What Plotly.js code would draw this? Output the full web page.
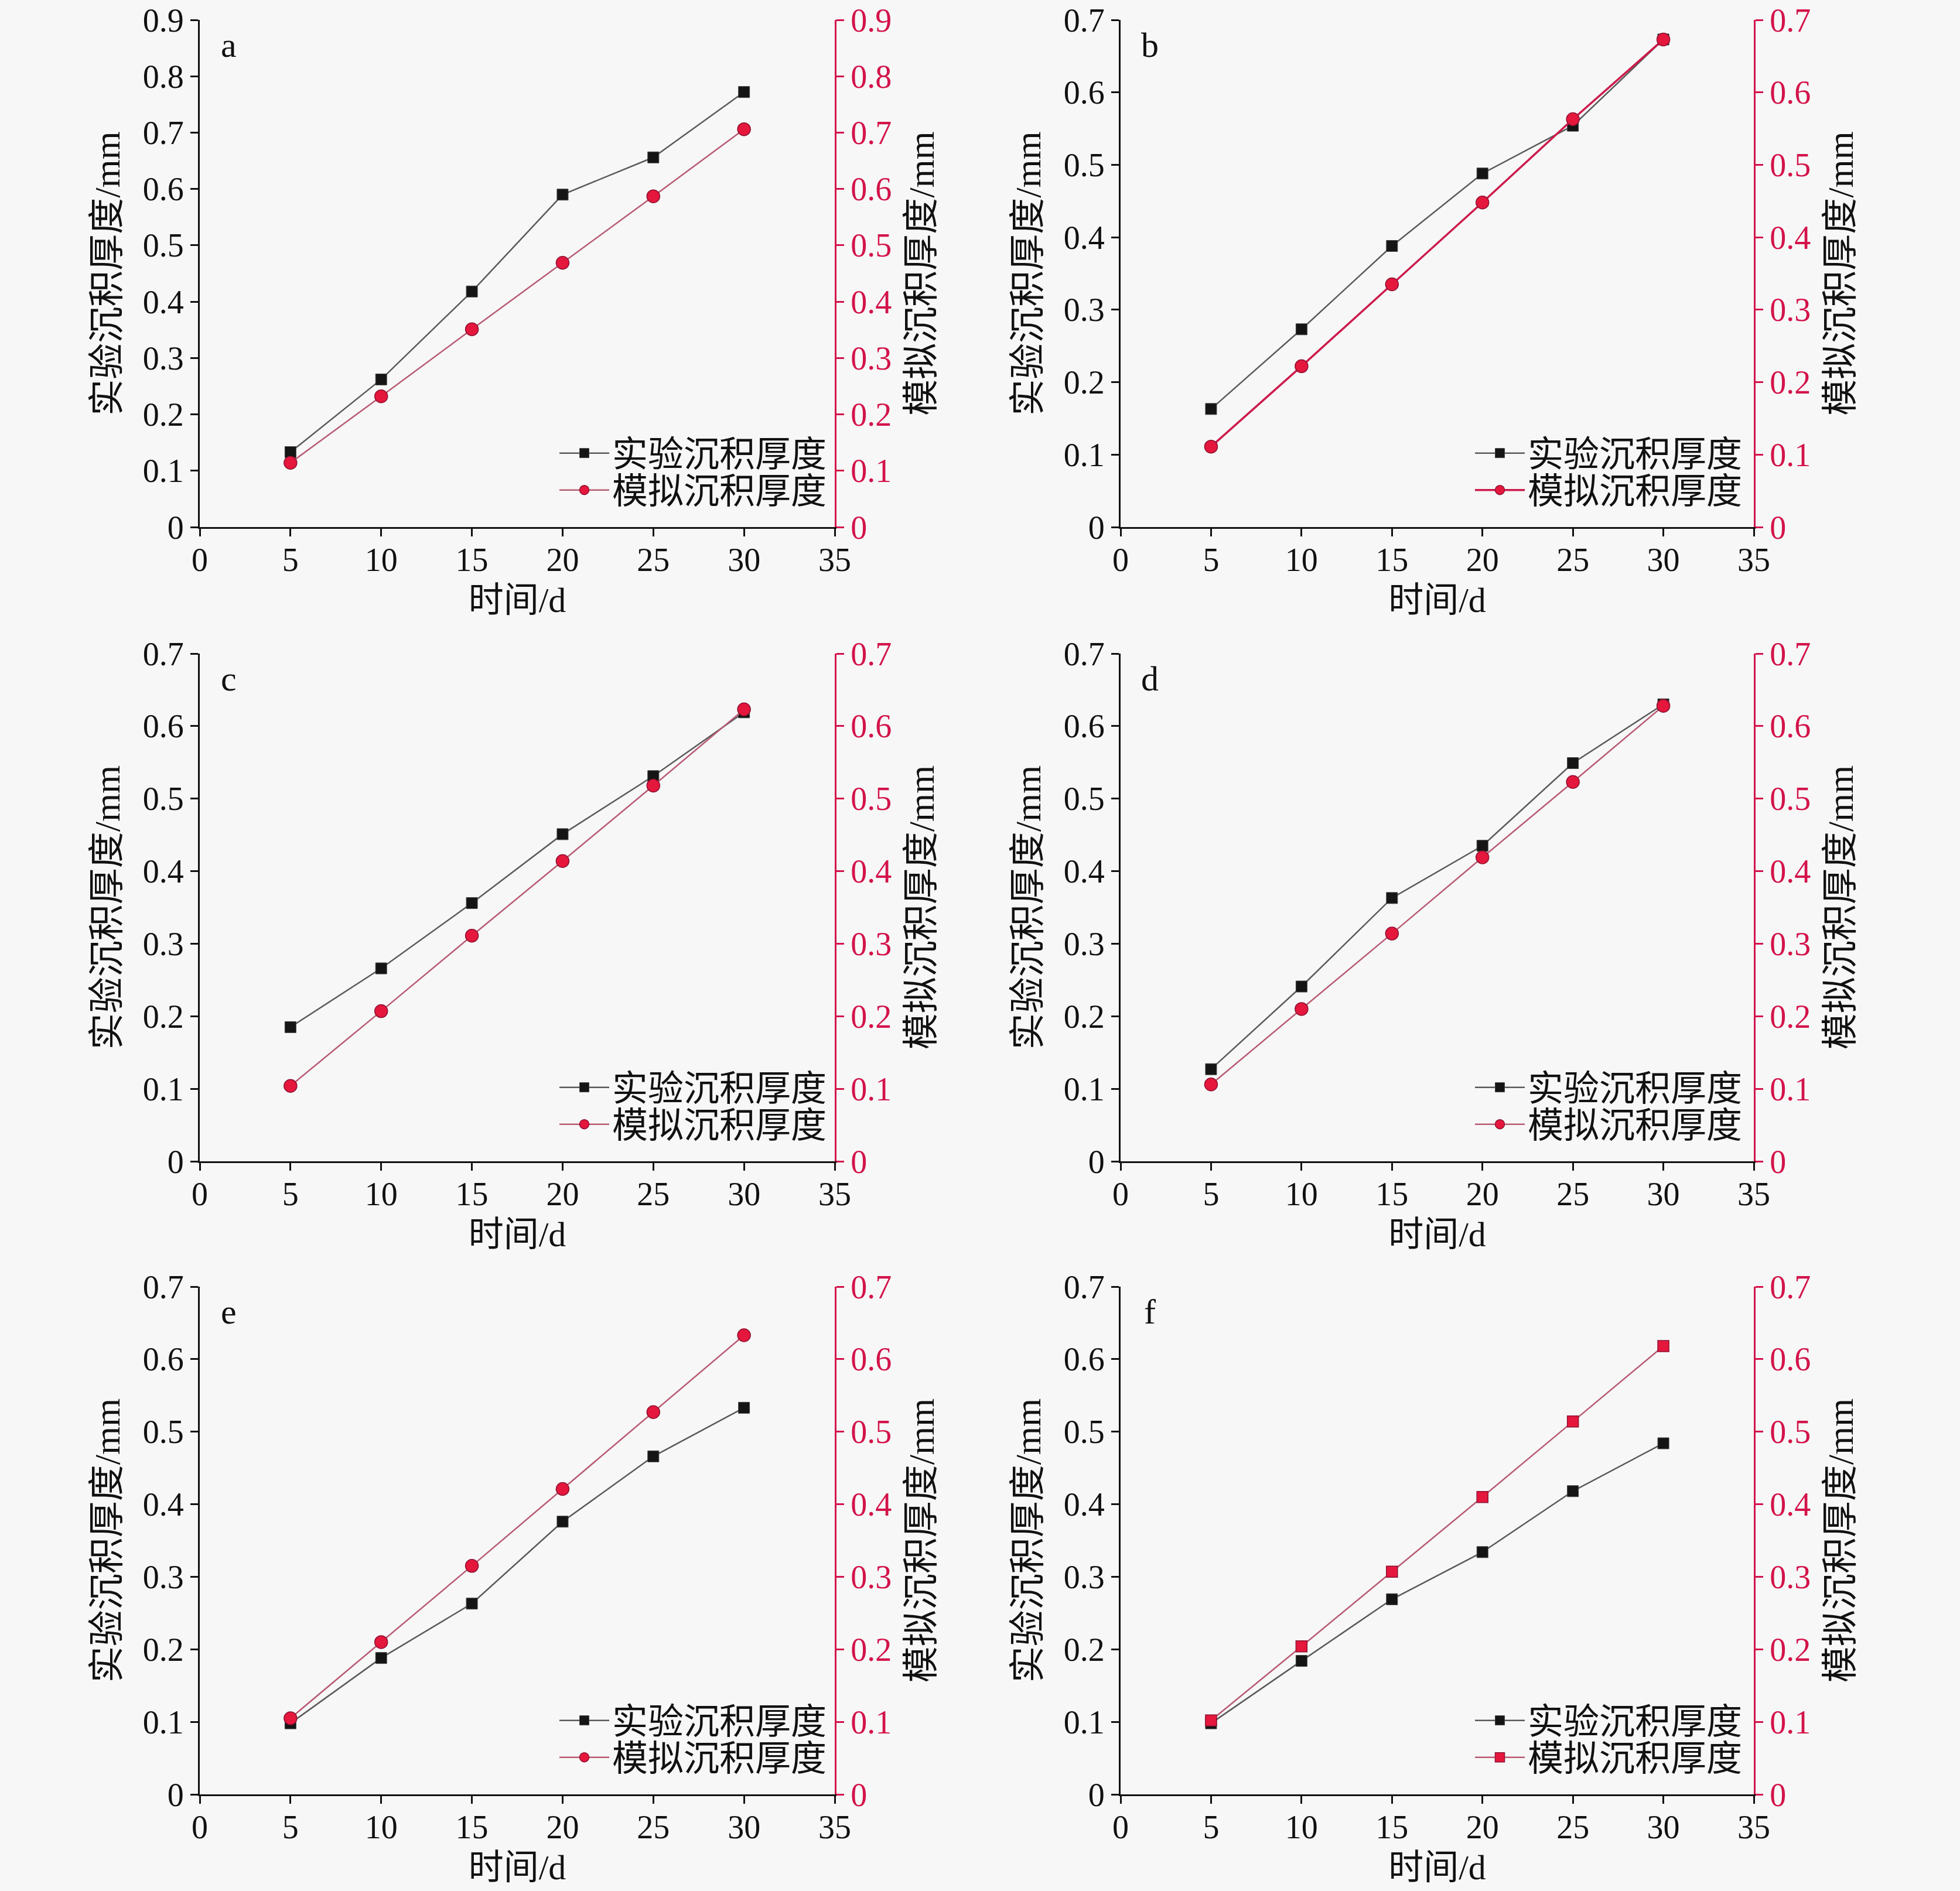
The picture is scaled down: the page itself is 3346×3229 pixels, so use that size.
<!DOCTYPE html>
<html>
<head>
<meta charset="utf-8">
<script src="https://cdn.plot.ly/plotly-3.0.1.min.js"></script>
<style>html,body{margin:0;padding:0;background:#f7f7f7;}#chart{width:3346px;height:3229px;}</style>
</head>
<body>
<div id="chart"></div>
<script>
// ---- data ----
const days = [5, 10, 15, 20, 25, 30];
const panelLabels = ['a', 'b', 'c', 'd', 'e', 'f'];
const expName = '实验沉积厚度';
const simName = '模拟沉积厚度';
const xTitle = '时间/d';
const yLeftTitle = '实验沉积厚度/mm';
const yRightTitle = '模拟沉积厚度/mm';

const expA = [0.133, 0.262, 0.418, 0.590, 0.656, 0.772];
const simA = [0.114, 0.232, 0.351, 0.469, 0.587, 0.706];
const expB = [0.163, 0.273, 0.388, 0.488, 0.554, 0.673];
const simB = [0.111, 0.222, 0.335, 0.448, 0.563, 0.673];
const expC = [0.185, 0.266, 0.356, 0.451, 0.531, 0.619];
const simC = [0.104, 0.207, 0.311, 0.414, 0.518, 0.623];
const expD = [0.127, 0.241, 0.363, 0.435, 0.549, 0.630];
const simD = [0.106, 0.210, 0.314, 0.419, 0.523, 0.628];
const expE = [0.098, 0.188, 0.263, 0.376, 0.466, 0.533];
const simE = [0.105, 0.210, 0.315, 0.421, 0.527, 0.633];
const expF = [0.098, 0.184, 0.269, 0.334, 0.418, 0.484];
const simF = [0.102, 0.204, 0.307, 0.410, 0.514, 0.618];

const yMax = [0.9, 0.7, 0.7, 0.7, 0.7, 0.7];
const simSymbol = ['circle', 'circle', 'circle', 'circle', 'circle', 'square'];

const expSeries = [expA, expB, expC, expD, expE, expF];
const simSeries = [simA, simB, simC, simD, simE, simF];

// ---- styling ----
const W = 3346, H = 3229;
const RED = '#d3134a';
const simLineColor = ['#b85a72', '#cc1a4c', '#b85a72', '#b85a72', '#b85a72', '#b85a72'];
const simLineWidth = [2.5, 3.5, 2.5, 2.5, 2.5, 2.5];
const serif = '"Liberation Serif", "Times New Roman", "Noto Sans CJK SC", serif';
const cjk = '"Liberation Serif", "Noto Sans CJK SC", serif';
const xDom = [[341 / W, 1425 / W], [1913 / W, 2994 / W]];
const yDomPx = [[34, 900], [1116, 1983], [2197, 3064]];
const legendRight = [1417 / W, 2980 / W];
const legendRowOffset = [126, 63];

const traces = [];
const layout = {
  width: W, height: H,
  margin: {l: 0, r: 0, t: 0, b: 0},
  paper_bgcolor: '#f7f7f7',
  plot_bgcolor: '#f7f7f7',
  showlegend: true,
  annotations: []
};

function legendCfg(col, row, k) {
  return {
    x: legendRight[col], xanchor: 'right',
    y: 1 - (yDomPx[row][1] - legendRowOffset[k]) / H, yanchor: 'middle',
    bgcolor: 'rgba(0,0,0,0)', borderwidth: 0,
    font: {family: cjk, size: 61, color: '#111'},
    itemwidth: 85, tracegroupgap: 0
  };
}

for (let i = 0; i < 6; i++) {
  const col = i % 2, row = Math.floor(i / 2);
  const n = i + 1;
  const xa = 'x' + (n === 1 ? '' : n);
  const ya = 'y' + (n === 1 ? '' : n);
  const yr = 'y' + (n + 6);
  const lgA = 'legend' + (2 * i + 1 === 1 ? '' : 2 * i + 1);
  const lgB = 'legend' + (2 * i + 2);
  const yd = [1 - yDomPx[row][1] / H, 1 - yDomPx[row][0] / H];

  traces.push({
    x: days, y: expSeries[i], xaxis: xa, yaxis: ya, legend: lgA,
    name: expName, type: 'scatter', mode: 'lines+markers',
    line: {color: '#5a5a5a', width: 2.5},
    marker: {symbol: 'square', size: 19, color: '#151515', line: {color: '#444', width: 1}}
  });
  traces.push({
    x: days, y: simSeries[i], xaxis: xa, yaxis: yr, legend: lgB,
    name: simName, type: 'scatter', mode: 'lines+markers',
    line: {color: simLineColor[i], width: simLineWidth[i]},
    marker: {symbol: simSymbol[i], size: simSymbol[i] === 'square' ? 19 : 22, color: '#e5173d', line: {color: '#8e1232', width: 1.5}}
  });

  const xKey = 'xaxis' + (n === 1 ? '' : n);
  const yKey = 'yaxis' + (n === 1 ? '' : n);
  const yrKey = 'yaxis' + (n + 6);

  layout[xKey] = {
    domain: xDom[col], anchor: ya, range: [0, 35], dtick: 5, tick0: 0,
    showline: true, linecolor: '#111', linewidth: 3,
    ticks: 'outside', ticklen: 13, tickwidth: 3, tickcolor: '#111',
    ticklabelstandoff: -8,
    showgrid: false, zeroline: false,
    tickfont: {family: serif, size: 56, color: '#111'},
    title: {text: xTitle, font: {family: cjk, size: 60, color: '#111'}, standoff: 17},
    automargin: false
  };
  layout[yKey] = {
    domain: yd, anchor: xa, range: [0, yMax[i]], dtick: 0.1, tick0: 0,
    showline: true, linecolor: '#111', linewidth: 3,
    ticks: 'outside', ticklen: 13, tickwidth: 3, tickcolor: '#111',
    showgrid: false, zeroline: false,
    tickfont: {family: serif, size: 56, color: '#111'},
    title: {text: yLeftTitle, font: {family: cjk, size: 62, color: '#111'}, standoff: 20},
    automargin: false
  };
  layout[yrKey] = {
    overlaying: ya, anchor: xa, side: 'right', range: [0, yMax[i]], dtick: 0.1, tick0: 0,
    showline: true, linecolor: RED, linewidth: 3,
    ticks: 'outside', ticklen: 13, tickwidth: 3, tickcolor: RED,
    showgrid: false, zeroline: false,
    tickfont: {family: serif, size: 56, color: RED},
    title: {text: yRightTitle, font: {family: cjk, size: 62, color: '#111'}, standoff: 30},
    automargin: false
  };
  layout[lgA] = legendCfg(col, row, 0);
  layout[lgB] = legendCfg(col, row, 1);
  layout.annotations.push({
    xref: xa + ' domain', yref: ya + ' domain', x: 0.046, y: 0.95,
    xanchor: 'center', yanchor: 'middle',
    text: panelLabels[i], showarrow: false,
    font: {family: serif, size: 60, color: '#111'}
  });
}

Plotly.newPlot('chart', traces, layout, {staticPlot: true});
</script>
</body>
</html>
